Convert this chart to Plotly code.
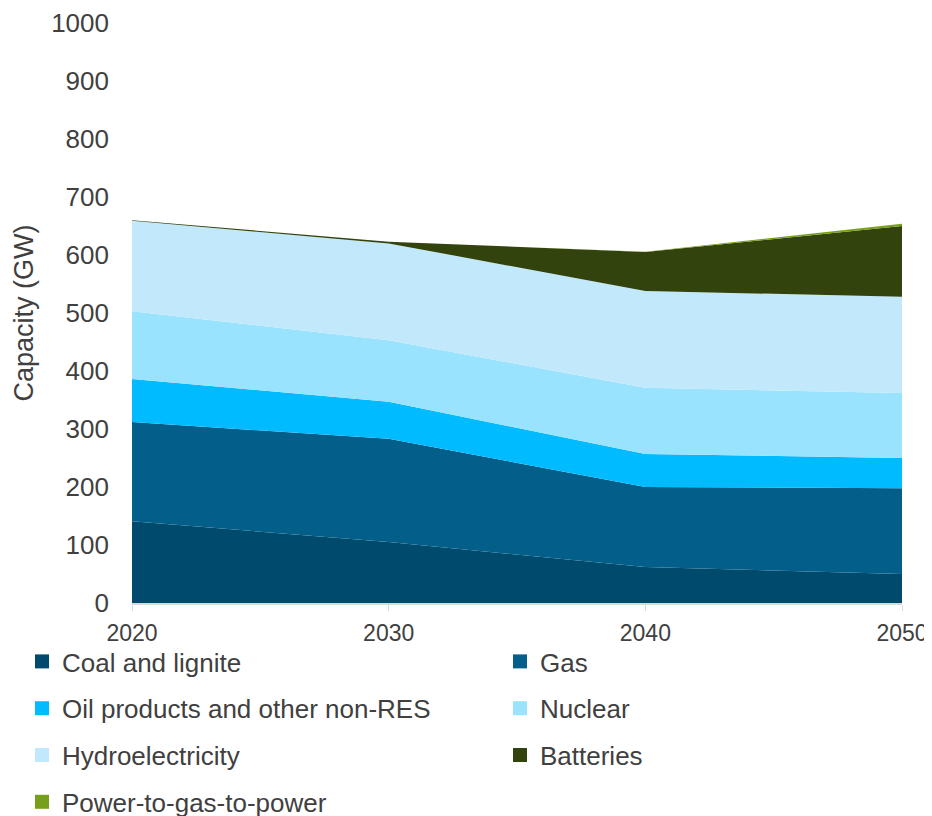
import plotly.graph_objects as go

years = [2020, 2030, 2040, 2050]
coal = [141, 105, 62, 50]
gas = [171, 178, 138, 148]
oil = [74, 64, 57, 52]
nuclear = [117, 106, 114, 112]
hydro = [156, 167, 167, 166]
batteries = [1, 3, 67, 122]
p2g = [0, 0, 0.5, 4]

names = ["Coal and lignite", "Gas", "Oil products and other non-RES", "Nuclear",
         "Hydroelectricity", "Batteries", "Power-to-gas-to-power"]
series = [coal, gas, oil, nuclear, hydro, batteries, p2g]
colors = ["#004a6e", "#035e8a", "#00bbff", "#99e3ff", "#c1e9fb", "#32430d", "#77a01a"]

FONT = "Liberation Sans, Arial, sans-serif"
TXT = "#404040"

# page body has an 8px default margin, so the figure is sized to fit the window
W, H = 924, 808
ML, MR, MT, MB = 124, 30, 15, 213
PW, PH = W - ML - MR, H - MT - MB

fig = go.Figure()
for n, s, c in zip(names, series, colors):
    fig.add_trace(go.Scatter(x=years, y=s, name=n, stackgroup="one", mode="none",
                             fillcolor=c, showlegend=False, hoverinfo="x+y+name"))

legend_ids = ["legend", "legend2", "legend", "legend2", "legend", "legend2", "legend"]
for i, (n, c, lid) in enumerate(zip(names, colors, legend_ids)):
    fig.add_trace(go.Scatter(x=[None], y=[None], mode="markers", name=n,
                             marker=dict(symbol="square", size=14, color=c, line=dict(width=0)),
                             legend=lid, legendgroup=f"g{i}", showlegend=True))

leg_common = dict(orientation="v", xref="paper", yref="paper",
                  xanchor="left", yanchor="top", font=dict(family=FONT, size=26, color=TXT),
                  bgcolor="rgba(0,0,0,0)", tracegroupgap=10,
                  itemclick=False, itemdoubleclick=False, traceorder="grouped")

fig.update_layout(
    width=W, height=H,
    margin=dict(l=ML, r=MR, t=MT, b=MB, autoexpand=False),
    paper_bgcolor="white", plot_bgcolor="white",
    font=dict(family=FONT, color=TXT),
    legend=dict(leg_common, x=-110 / PW, y=-35 / PH),
    legend2=dict(leg_common, x=368 / PW, y=-35 / PH),
    xaxis=dict(range=[2020, 2050], tickvals=years, ticktext=[str(y) for y in years],
               showgrid=False, zeroline=False, showline=True, linecolor="#d9d9d9", linewidth=1.5,
               ticks="outside", ticklen=6, tickcolor="#d9d9d9", automargin=False,
               ticklabeloverflow="allow",
               tickfont=dict(family=FONT, size=23, color=TXT), ticklabelstandoff=3),
    yaxis=dict(range=[0, 1000], dtick=100, showgrid=False, zeroline=False, showline=False,
               ticks="", tickfont=dict(family=FONT, size=26, color=TXT), ticklabelstandoff=22,
               automargin=False,
               title=dict(text="Capacity (GW)", font=dict(family=FONT, size=27, color=TXT), standoff=9)),
)

fig.write_html("out.html")
